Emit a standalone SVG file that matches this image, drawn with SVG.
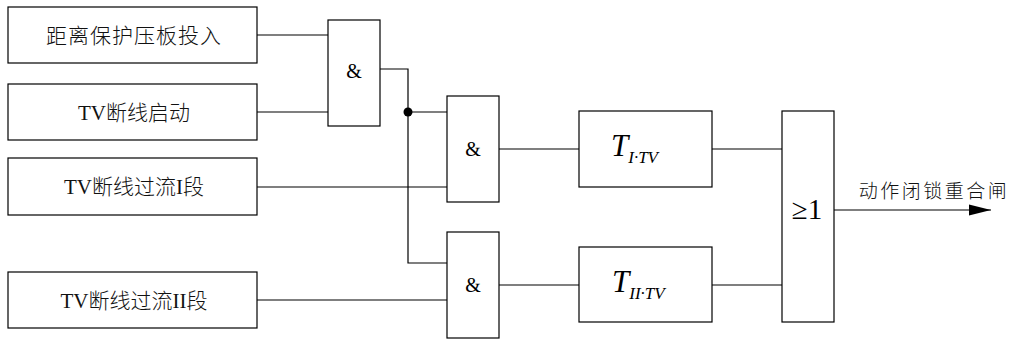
<svg xmlns="http://www.w3.org/2000/svg" width="1014" height="340" viewBox="0 0 1014 340">
<style>
.box{fill:#fff;stroke:#000;stroke-width:1.2}
.ln{fill:none;stroke:#000;stroke-width:1.2}
.cn{font-family:"Liberation Serif","Noto Sans CJK SC",serif;font-size:21px;font-weight:300;fill:#111;text-anchor:middle}
.la{font-family:"Liberation Serif",serif;font-weight:400}
.amp{font-family:"Liberation Serif",serif;font-size:20px;fill:#000;text-anchor:middle}
.ti{font-family:"Liberation Serif",serif;font-style:italic;fill:#000}
</style>
<defs>
<marker id="arr" markerWidth="22" markerHeight="12" refX="22" refY="6" orient="auto" markerUnits="userSpaceOnUse">
<path d="M0,0.5 L22,6 L0,11.5 Z" fill="#000"/>
</marker>
</defs>
<rect width="1014" height="340" fill="#fff"/>
<g id="connectors">
<path class="ln" d="M257,35 H328"/>
<path class="ln" d="M257,112 H328"/>
<path class="ln" d="M380,69 H408 V263 H447"/>
<path class="ln" d="M408,112 H447"/>
<path class="ln" d="M257,187 H447"/>
<path class="ln" d="M257,300 H447"/>
<path class="ln" d="M499,149 H579"/>
<path class="ln" d="M499,285 H579"/>
<path class="ln" d="M712,149 H782"/>
<path class="ln" d="M712,285 H782"/>
<path class="ln" d="M834,210 H991" marker-end="url(#arr)"/>
<circle cx="408" cy="112" r="4.5" fill="#000"/>
</g>
<g id="in1"><rect class="box" x="8" y="7" width="249" height="56"/><text class="cn" x="134" y="43" letter-spacing="1">距离保护压板投入</text></g>
<g id="in2"><rect class="box" x="8" y="84" width="249" height="56"/><text class="cn" x="134" y="120"><tspan class="la">TV</tspan>断线启动</text></g>
<g id="in3"><rect class="box" x="8" y="158" width="249" height="57"/><text class="cn" x="134" y="194"><tspan class="la">TV</tspan>断线过流<tspan class="la">I</tspan>段</text></g>
<g id="in4"><rect class="box" x="8" y="272" width="249" height="56"/><text class="cn" x="134" y="308"><tspan class="la">TV</tspan>断线过流<tspan class="la">II</tspan>段</text></g>
<g id="and1"><rect class="box" x="328" y="20" width="52" height="106"/><text class="amp" x="354" y="78">&amp;</text></g>
<g id="and2"><rect class="box" x="447" y="96" width="52" height="106"/><text class="amp" x="473" y="156">&amp;</text></g>
<g id="and3"><rect class="box" x="447" y="232" width="52" height="106"/><text class="amp" x="473" y="292">&amp;</text></g>
<g id="t1"><rect class="box" x="579" y="111" width="133" height="76"/><text class="ti" x="611" y="156" font-size="31">T<tspan font-size="17" dy="7">I·TV</tspan></text></g>
<g id="t2"><rect class="box" x="579" y="247" width="133" height="75"/><text class="ti" x="612" y="292" font-size="31">T<tspan font-size="17" dy="7">II·TV</tspan></text></g>
<g id="or"><rect class="box" x="782" y="111" width="52" height="211"/><text x="807" y="219" font-family="Liberation Serif,serif" font-size="29" text-anchor="middle">≥1</text></g>
<text x="934" y="198" font-family="Liberation Serif,Noto Sans CJK SC,serif" font-size="19" font-weight="300" letter-spacing="2.5" text-anchor="middle" fill="#111">动作闭锁重合闸</text>
</svg>
